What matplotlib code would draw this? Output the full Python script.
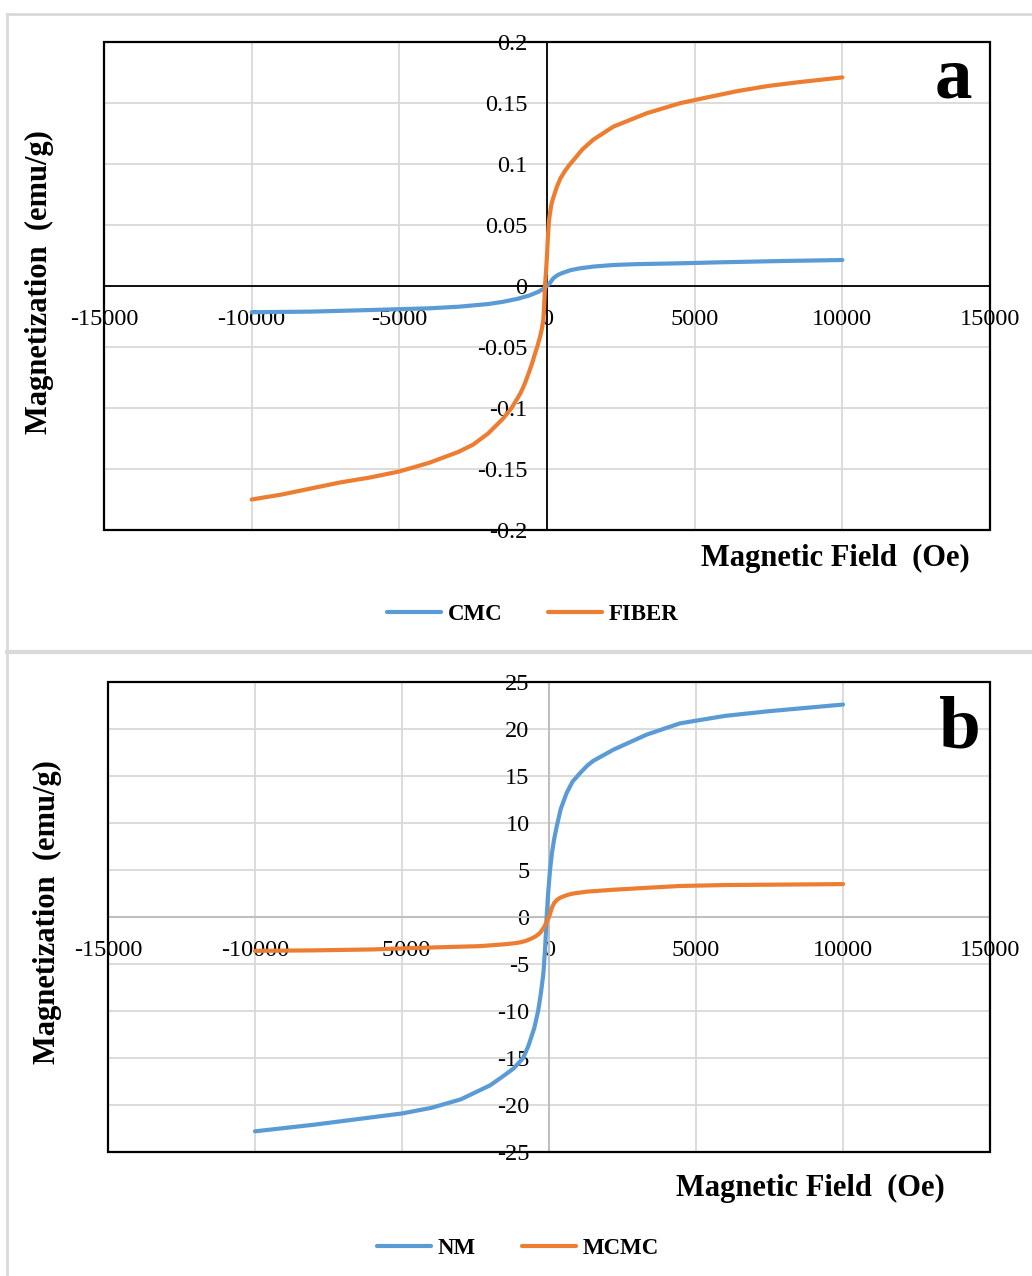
import matplotlib
matplotlib.use("Agg")
from matplotlib import pyplot as plt
from matplotlib.lines import Line2D
from matplotlib.patches import Rectangle

plt.rcParams['font.family'] = ['Liberation Serif', 'DejaVu Serif']

# ---- data ----
# panel a
cmc_field = [-10000, -8000, -6000, -4000, -3000, -2000, -1500, -1000, -600, -300, -100,
             0, 100, 213, 350, 500, 800, 1117, 1600, 2245, 3000, 4500, 6000, 8000, 10000]
cmc_mag = [-0.0215, -0.021, -0.0197, -0.0183, -0.0170, -0.0148, -0.0130, -0.0105, -0.0078,
           -0.0048, -0.002, 0.0, 0.0025, 0.0063, 0.0088, 0.0105, 0.013, 0.0145, 0.0160,
           0.0172, 0.0179, 0.0186, 0.0195, 0.0205, 0.0213]

fiber_field = [-10000, -9000, -8000, -7000, -6000, -5000, -4000, -3000, -2500, -2000, -1500,
               -1200, -900, -750, -600, -500, -400, -320, -240, -180, -125, -100, -68, -30,
               0, 30, 68, 110, 150, 220, 330, 450, 600, 750, 890, 1200, 1570, 2245, 3375,
               4500, 5500, 6500, 7500, 8500, 10000]
fiber_mag = [-0.175, -0.171, -0.166, -0.161, -0.157, -0.152, -0.145, -0.136, -0.130, -0.121,
             -0.109, -0.100, -0.088, -0.080, -0.070, -0.063, -0.055, -0.049, -0.042, -0.036,
             -0.028, -0.018, 0.0, 0.013, 0.025, 0.040, 0.054, 0.061, 0.067, 0.073, 0.081,
             0.088, 0.094, 0.099, 0.103, 0.112, 0.120, 0.1306, 0.1416, 0.1498, 0.155,
             0.160, 0.164, 0.167, 0.171]

# panel b
nm_field = [-10000, -8000, -6000, -5000, -4000, -3000, -2000, -1500, -1200, -880, -700, -500,
            -370, -280, -190, -130, -80, -30, 35, 100, 170, 260, 400, 600, 800, 1054, 1300,
            1500, 2190, 3320, 4455, 6000, 7500, 10000]
nm_mag = [-22.8, -22.1, -21.3, -20.9, -20.3, -19.4, -17.9, -16.8, -16.1, -15.0, -13.7, -11.8,
          -10.0, -8.2, -6.0, -3.2, 0.0, 2.5, 5.0, 6.8, 8.2, 9.6, 11.5, 13.2, 14.4, 15.3, 16.1,
          16.6, 17.8, 19.4, 20.6, 21.4, 21.9, 22.6]

mcmc_field = [-10000, -8000, -6000, -4615, -3500, -2347, -1500, -1200, -986, -800, -600, -450,
              -306, -150, -80, 0, 50, 100, 170, 262, 380, 500, 650, 826, 1300, 2190, 3300,
              4455, 6000, 8000, 10000]
mcmc_mag = [-3.6, -3.55, -3.45, -3.3, -3.2, -3.1, -2.9, -2.8, -2.7, -2.55, -2.3, -2.05,
            -1.7, -1.0, -0.5, 0.0, 0.5, 1.0, 1.45, 1.8, 2.05, 2.2, 2.37, 2.5, 2.7, 2.9, 3.1,
            3.3, 3.4, 3.45, 3.5]

x_ticks = [-15000, -10000, -5000, 0, 5000, 10000, 15000]
a_yticks = [-0.2, -0.15, -0.1, -0.05, 0, 0.05, 0.1, 0.15, 0.2]
a_ylabels = ['-0.2', '-0.15', '-0.1', '-0.05', '0', '0.05', '0.1', '0.15', '0.2']
b_yticks = [-25, -20, -15, -10, -5, 0, 5, 10, 15, 20, 25]

BLUE = '#5b9bd5'
ORANGE = '#ed7d31'
GRID = '#d9d9d9'

W, H = 1032, 1276
fig = plt.figure(figsize=(W / 100, H / 100), dpi=100)


def fx(px):
    return px / W


def fy(py):
    return 1 - py / H


def setup(ax, ylim, yticks, ylabels, axis_color, axis_lw):
    ax.set_xlim(-15000, 15000)
    ax.set_ylim(*ylim)
    ax.set_xticks(x_ticks)
    ax.set_xticklabels([str(t) for t in x_ticks])
    ax.set_yticks(yticks)
    ax.set_yticklabels(ylabels)
    ax.grid(True, color=GRID, lw=1.3, zorder=0)
    ax.set_axisbelow(True)
    for s in ['top', 'right']:
        ax.spines[s].set_visible(False)
    ax.spines['left'].set_position(('data', 0))
    ax.spines['bottom'].set_position(('data', 0))
    for s in ['left', 'bottom']:
        ax.spines[s].set_color(axis_color)
        ax.spines[s].set_linewidth(axis_lw)
    ax.tick_params(length=0, labelsize=17.5, colors='black')
    ax.tick_params(axis='y', pad=14)
    ax.tick_params(axis='x', pad=16.5)
    ax.add_patch(Rectangle((0, 0), 1, 1, transform=ax.transAxes, fill=False,
                           ec='black', lw=1.6, zorder=5, clip_on=False))


# panel a
ax1 = fig.add_axes([fx(104), fy(530), fx(990) - fx(104), fy(42) - fy(530)])
setup(ax1, (-0.2, 0.2), a_yticks, a_ylabels, 'black', 1.3)
l1, = ax1.plot(cmc_field, cmc_mag, color=BLUE, lw=3, solid_capstyle='round', label='CMC', zorder=3)
l2, = ax1.plot(fiber_field, fiber_mag, color=ORANGE, lw=3, solid_capstyle='round', label='FIBER', zorder=3)

# panel b
ax2 = fig.add_axes([fx(108), fy(1152), fx(990) - fx(108), fy(682) - fy(1152)])
setup(ax2, (-25, 25), b_yticks, [str(t) for t in b_yticks], '#bfbfbf', 1.5)
l3, = ax2.plot(nm_field, nm_mag, color=BLUE, lw=3, solid_capstyle='round', label='NM', zorder=3)
l4, = ax2.plot(mcmc_field, mcmc_mag, color=ORANGE, lw=3, solid_capstyle='round', label='MCMC', zorder=3)

# axis titles and panel letters
lab = dict(fontsize=22, fontweight='bold')
fig.text(fx(39), fy(282), 'Magnetization  (emu/g)', rotation=90, ha='center', va='center', **lab)
fig.text(fx(47), fy(912), 'Magnetization  (emu/g)', rotation=90, ha='center', va='center', **lab)
fig.text(fx(970), fy(558), 'Magnetic Field  (Oe)', ha='right', va='center', **lab)
fig.text(fx(945), fy(1188), 'Magnetic Field  (Oe)', ha='right', va='center', **lab)
fig.text(fx(953), fy(97), 'a', ha='center', va='baseline', fontsize=54, fontweight='bold')
fig.text(fx(960), fy(748), 'b', ha='center', va='baseline', fontsize=54, fontweight='bold')

# legends
leg_kw = dict(loc='center', ncol=2, frameon=False, handlelength=2.35, handletextpad=0.3,
              columnspacing=2.0, prop={'size': 16.5, 'weight': 'bold'})
fig.legend([l1, l2], ['CMC', 'FIBER'], bbox_to_anchor=(fx(533), fy(614)), **leg_kw)
fig.legend([l3, l4], ['NM', 'MCMC'], bbox_to_anchor=(fx(518), fy(1248)), **leg_kw)

# light grey chart-area borders
border = dict(color=GRID, lw=2, transform=fig.transFigure)
fig.add_artist(Line2D([fx(7), 1], [fy(14), fy(14)], **border))
fig.add_artist(Line2D([fx(7), fx(7)], [fy(14), 0], **border))
fig.add_artist(Line2D([fx(7), 1], [fy(652), fy(652)], color=GRID, lw=3, transform=fig.transFigure))

fig.savefig('out.png', dpi=100)
